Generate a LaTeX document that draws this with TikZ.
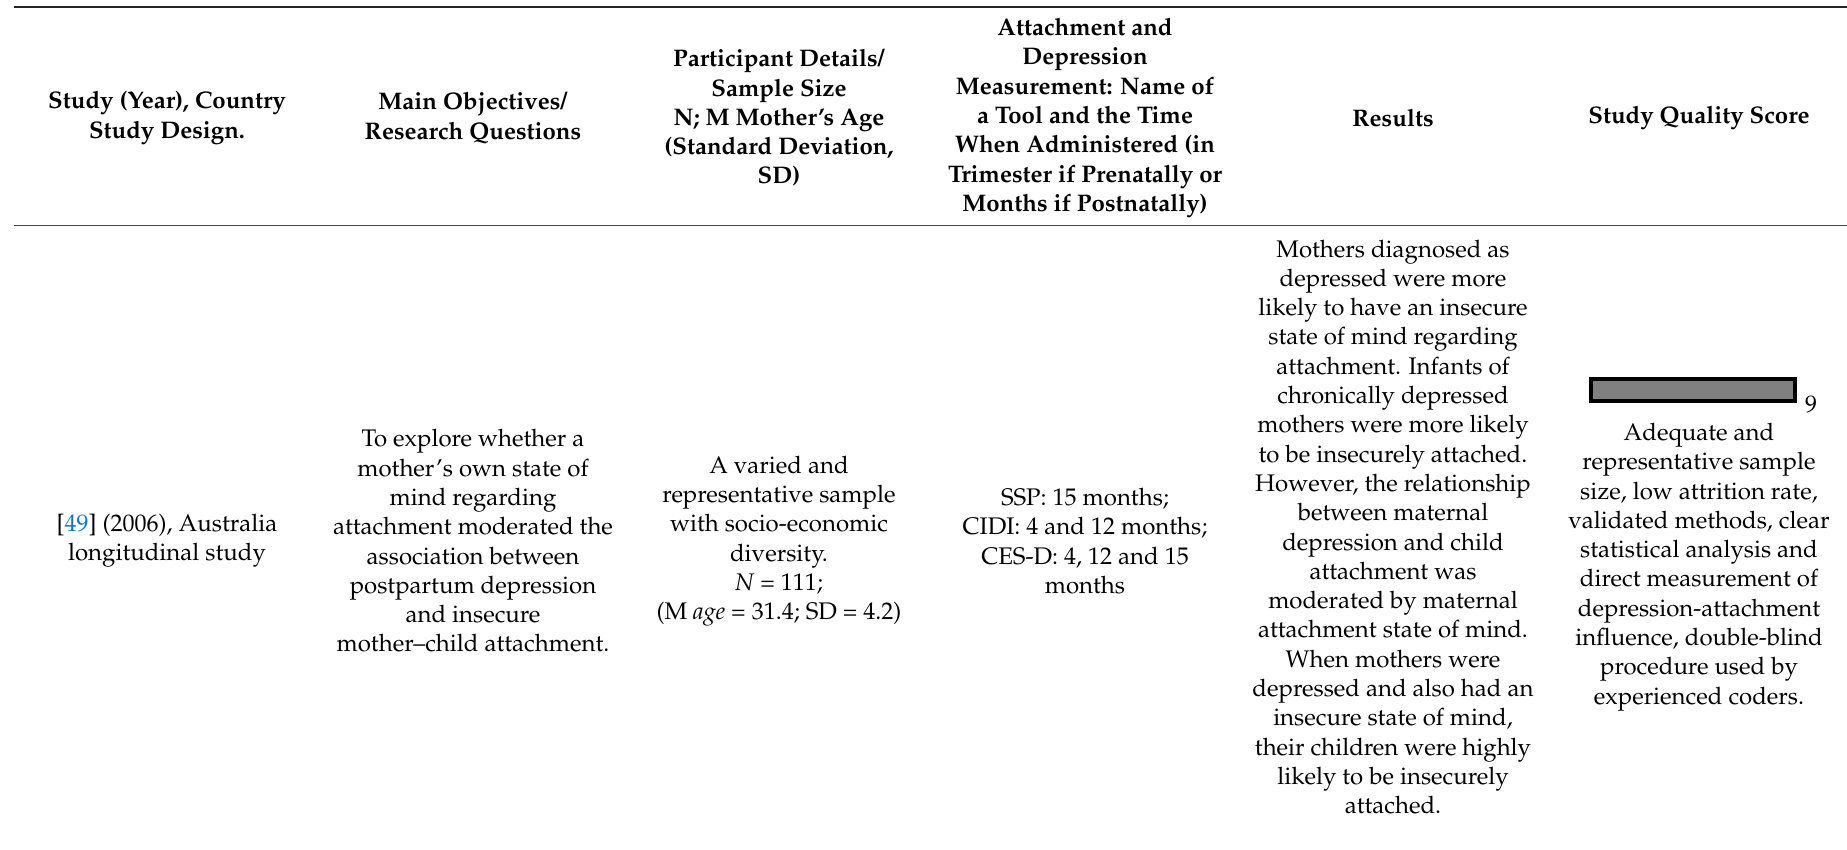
\documentclass[tikz,border=0pt]{standalone}
\usepackage[T1]{fontenc}
\usepackage{mathpazo}
\definecolor{linkblue}{RGB}{24,116,186}
\definecolor{barfill}{RGB}{128,128,128}
\begin{document}
\begin{tikzpicture}[x=1pt,y=-1pt,
  cell/.style={align=center,inner sep=0pt,font=\fontsize{24}{29.3}\selectfont},
  head/.style={align=center,inner sep=0pt,font=\fontsize{24}{29.3}\selectfont\bfseries},
  toprule/.style={line width=2pt,black!85},
  midrule/.style={line width=1.4pt,black!72},
  scorebar/.style={draw=black,line width=4pt,fill=barfill,inner sep=0pt,minimum width=204pt,minimum height=22pt}]
\useasboundingbox (0,0) rectangle (1847,850);
% rules
\coordinate (tl) at (14,7.5);
\coordinate (tr) at (1847,7.5);
\coordinate (ml) at (14,225.3);
\coordinate (mr) at (1847,225.3);
\draw[toprule] (tl) -- (tr);
\draw[midrule] (ml) -- (mr);
% header
\node[head] (h1) at (167,118) {Study (Year), Country\\Study Design.};
\node[head] (h2) at (473,118) {Main Objectives/\\Research Questions};
\node[head] (h3) at (779,118) {Participant Details/\\Sample Size\\N; M Mother's Age\\(Standard Deviation,\\SD)};
\node[head] (h4) at (1085,118) {Attachment and\\Depression\\Measurement: Name of\\a Tool and the Time\\When Administered (in\\Trimester if Prenatally or\\Months if Postnatally)};
\node[head] (h5) at (1393,118) {Results};
\node[head] (h6) at (1699,118) {Study Quality Score};
% body
\node[cell] (b1) at (167,541) {[\textcolor{linkblue}{49}] (2006), Australia\\longitudinal study};
\node[cell] (b2) at (473,541) {To explore whether a\\mother's own state of\\mind regarding\\attachment moderated the\\association between\\postpartum depression\\and insecure\\mother--child attachment.};
\node[cell] (b3) at (779,541) {A varied and\\representative sample\\with socio-economic\\diversity.\\\textit{N} = 111;\\(M \textit{age} = 31.4; SD = 4.2)};
\node[cell] (b4) at (1085,541) {SSP: 15 months;\\CIDI: 4 and 12 months;\\CES-D: 4, 12 and 15\\months};
\node[cell] (b5) at (1393,527) {Mothers diagnosed as\\depressed were more\\likely to have an insecure\\state of mind regarding\\attachment. Infants of\\chronically depressed\\mothers were more likely\\to be insecurely attached.\\However, the relationship\\between maternal\\depression and child\\attachment was\\moderated by maternal\\attachment state of mind.\\When mothers were\\depressed and also had an\\insecure state of mind,\\their children were highly\\likely to be insecurely\\attached.};
\node[scorebar] (bar) at (1693,390) {};
\node[cell,anchor=center] (score) at (1811,404) {9};
\node[cell] (b6) at (1699,567) {Adequate and\\representative sample\\size, low attrition rate,\\validated methods, clear\\statistical analysis and\\direct measurement of\\depression-attachment\\influence, double-blind\\procedure used by\\experienced coders.};
\end{tikzpicture}
\end{document}
